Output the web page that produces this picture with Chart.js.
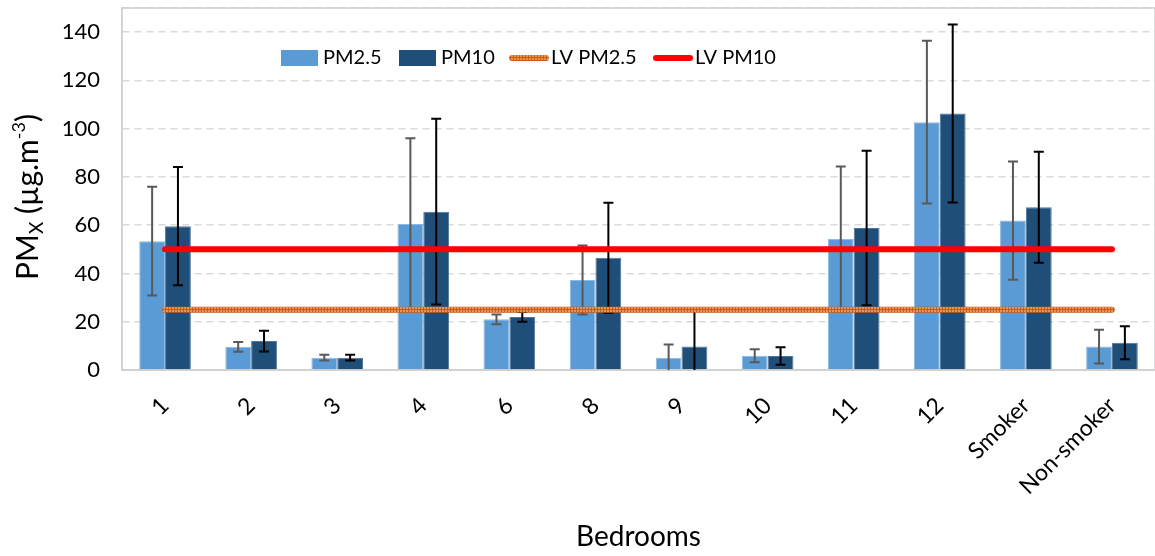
<!DOCTYPE html>
<html>
<head>
<meta charset="utf-8">
<script src="https://cdn.jsdelivr.net/npm/chart.js@4/dist/chart.umd.min.js"></script>
<style>
  html, body { margin: 0; padding: 0; background: #fff; }
  #wrap { width: 1155px; height: 556px; position: relative; }
</style>
</head>
<body>
<div id="wrap"><canvas id="chart"></canvas></div>
<script>
// data
const categories = ['1', '2', '3', '4', '6', '8', '9', '10', '11', '12', 'Smoker', 'Non-smoker'];
const pm25 = [53.4, 9.6, 5.1, 60.5, 21.0, 37.3, 5.1, 5.9, 54.3, 102.7, 61.9, 9.7];
const pm25Err = [22.5, 2.0, 1.2, 35.5, 2.0, 14.3, 5.5, 2.7, 30.0, 33.7, 24.5, 7.0];
const pm10 = [59.6, 12.0, 5.1, 65.6, 22.0, 46.5, 9.7, 5.8, 58.8, 106.3, 67.4, 11.3];
const pm10Err = [24.5, 4.3, 1.2, 38.5, 2.0, 22.8, 15.0, 3.6, 32.0, 36.9, 23.0, 6.8];
const lvPm25 = categories.map(() => 25);
const lvPm10 = categories.map(() => 50);
const yTicks = [0, 20, 40, 60, 80, 100, 120, 140];

const FONT = 'Lato, "Open Sans", sans-serif';

// hatched orange texture for the LV PM2.5 line
function hatch() {
    const c = document.createElement('canvas');
    c.width = 3; c.height = 3;
    const g = c.getContext('2d');
    g.fillStyle = '#EE9254';
    g.fillRect(0, 0, 3, 3);
    g.fillStyle = '#C45E1A';
    g.fillRect(0, 0, 3, 1);
    g.fillRect(0, 0, 1, 3);
    return g.createPattern(c, 'repeat');
}
const orangePattern = hatch();

const errors = { 0: { err: pm25Err, color: '#595959' }, 1: { err: pm10Err, color: '#000000' } };

const errorBars = {
    id: 'errorBars',
    afterDatasetDraw(chart, args) {
        const e = errors[args.index];
        if (!e) return;
        const ctx = chart.ctx, y = chart.scales.y, area = chart.chartArea;
        const values = chart.data.datasets[args.index].data;
        ctx.save();
        ctx.strokeStyle = e.color;
        ctx.lineWidth = 2;
        args.meta.data.forEach((bar, i) => {
            const top = y.getPixelForValue(values[i] + e.err[i]);
            const lowV = values[i] - e.err[i];
            const bot = Math.min(y.getPixelForValue(lowV), area.bottom);
            ctx.beginPath();
            ctx.moveTo(bar.x, top); ctx.lineTo(bar.x, bot);
            ctx.moveTo(bar.x - 5, top); ctx.lineTo(bar.x + 5, top);
            if (lowV >= 0) { ctx.moveTo(bar.x - 5, bot); ctx.lineTo(bar.x + 5, bot); }
            ctx.stroke();
        });
        ctx.restore();
    }
};

const frame = {
    id: 'frame',
    beforeDatasetsDraw(chart) {
        const { ctx, chartArea: a } = chart;
        ctx.save();
        ctx.strokeStyle = '#D0D0D0';
        ctx.lineWidth = 1.5;
        ctx.strokeRect(a.left, a.top, a.right - a.left, a.bottom - a.top);
        ctx.restore();
    }
};

// y title with subscript / superscript, and the legend inside the plot
const texts = {
    id: 'texts',
    afterDraw(chart) {
        const ctx = chart.ctx;
        ctx.save();
        ctx.fillStyle = '#000';
        ctx.textBaseline = 'alphabetic';
        const parts = [
            { t: 'PM', size: 30, dy: 0 },
            { t: 'X', size: 19, dy: 5 },
            { t: ' (µg.m', size: 30, dy: 0 },
            { t: '-3', size: 18, dy: -13 },
            { t: ')', size: 30, dy: 0 }
        ];
        let total = 0;
        parts.forEach(p => { ctx.font = p.size + 'px ' + FONT; p.w = ctx.measureText(p.t).width; total += p.w; });
        ctx.translate(38, 197);
        ctx.rotate(-Math.PI / 2);
        let x = -total / 2;
        parts.forEach(p => { ctx.font = p.size + 'px ' + FONT; ctx.fillText(p.t, x, p.dy); x += p.w; });
        ctx.restore();

        // legend
        ctx.save();
        ctx.font = '20px ' + FONT;
        ctx.textBaseline = 'middle';
        const ly = 58;
        const items = [
            { x: 281, label: 'PM2.5', kind: 'box', color: '#5B9BD5' },
            { x: 399, label: 'PM10', kind: 'box', color: '#1F4E79' },
            { x: 509, label: 'LV PM2.5', kind: 'line', color: orangePattern },
            { x: 653, label: 'LV PM10', kind: 'line', color: '#FF0000' }
        ];
        items.forEach(it => {
            if (it.kind === 'box') {
                ctx.fillStyle = it.color;
                ctx.fillRect(it.x, ly - 8, 37, 16);
            } else {
                ctx.strokeStyle = it.color;
                ctx.lineWidth = 6;
                ctx.lineCap = 'round';
                ctx.beginPath();
                ctx.moveTo(it.x + 3, ly); ctx.lineTo(it.x + 37, ly);
                ctx.stroke();
            }
            ctx.fillStyle = '#000';
            ctx.fillText(it.label, it.x + 42, ly);
        });
        ctx.restore();
    }
};

new Chart(document.getElementById('chart'), {
    type: 'bar',
    data: {
        labels: categories,
        datasets: [
            { label: 'PM2.5', data: pm25, backgroundColor: '#5B9BD5', borderColor: '#8DB9E2', borderWidth: 1, borderSkipped: 'bottom', categoryPercentage: 0.6, barPercentage: 1, order: 2 },
            { label: 'PM10', data: pm10, backgroundColor: '#1F4E79', borderColor: '#4F7599', borderWidth: 1, borderSkipped: 'bottom', categoryPercentage: 0.6, barPercentage: 1, order: 2 },
            { type: 'line', label: 'LV PM2.5', data: lvPm25, borderColor: orangePattern, borderWidth: 6, borderCapStyle: 'round', pointRadius: 0, order: 1 },
            { type: 'line', label: 'LV PM10', data: lvPm10, borderColor: '#FF0000', borderWidth: 6, borderCapStyle: 'round', pointRadius: 0, order: 0 }
        ]
    },
    plugins: [frame, errorBars, texts],
    options: {
        responsive: true,
        maintainAspectRatio: false,
        animation: false,
        layout: { padding: { top: 8, right: -5, left: 0, bottom: 0 } },
        plugins: {
            legend: { display: false },
            tooltip: { enabled: false }
        },
        scales: {
            x: {
                grid: { display: false, drawTicks: false },
                border: { display: true, color: '#D0D0D0', width: 1.5 },
                ticks: { color: '#000', font: { family: FONT, size: 23 }, minRotation: 45, maxRotation: 45, padding: 22 },
                title: { display: true, text: 'Bedrooms', color: '#000', font: { family: FONT, size: 28 }, padding: { top: 0, bottom: 2 } },
                afterFit: (s) => { s.height = 186; }
            },
            y: {
                min: 0,
                max: 150,
                afterBuildTicks: (s) => { s.ticks = [...yTicks, 150].map(v => ({ value: v })); },
                ticks: {
                    color: '#000',
                    font: { family: FONT, size: 22, lineHeight: 0.5 },
                    padding: 2,
                    callback: (v) => yTicks.includes(v) ? v : ''
                },
                grid: { color: '#D9D9D9', lineWidth: 1.5, drawTicks: true, tickLength: 20, tickColor: 'rgba(0,0,0,0)' },
                border: { display: true, color: '#D0D0D0', width: 1.5, dash: [7, 5] },
                afterFit: (s) => { s.width = 122; }
            }
        }
    }
});
</script>
</body>
</html>
